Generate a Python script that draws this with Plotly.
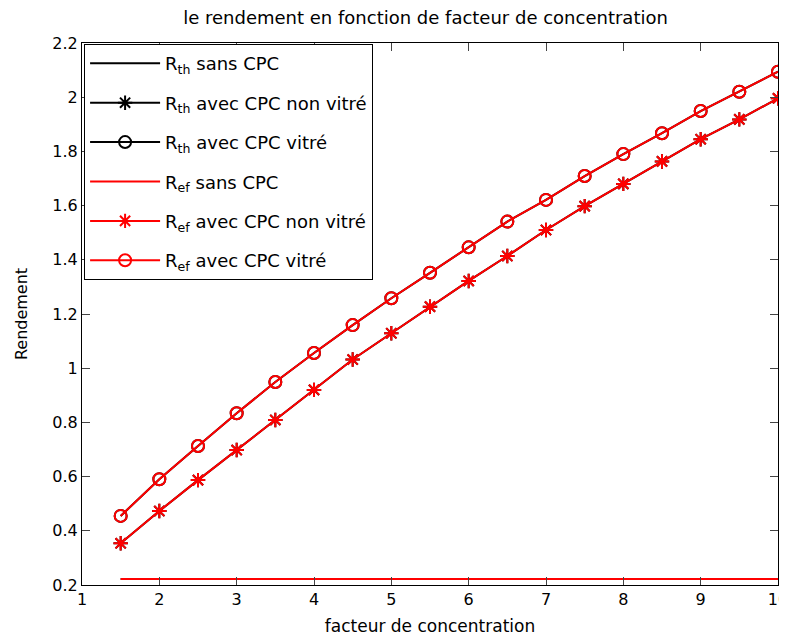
import plotly.graph_objs as go

facteur = [1.5, 2, 2.5, 3, 3.5, 4, 4.5, 5, 5.5, 6, 6.5, 7, 7.5, 8, 8.5, 9, 9.5, 10]

R_sans_cpc = [0.222] * len(facteur)
R_non_vitre = [0.354, 0.473, 0.587, 0.698, 0.809, 0.920, 1.032, 1.129, 1.227, 1.322,
               1.414, 1.510, 1.598, 1.680, 1.763, 1.845, 1.918, 1.996]
R_vitre = [0.455, 0.590, 0.713, 0.834, 0.949, 1.056, 1.159, 1.258, 1.352, 1.446,
           1.541, 1.621, 1.709, 1.790, 1.867, 1.949, 2.020, 2.094]

x_ticks = [1, 2, 3, 4, 5, 6, 7, 8, 9, 10]
y_ticks = [0.2, 0.4, 0.6, 0.8, 1.0, 1.2, 1.4, 1.6, 1.8, 2.0, 2.2]
y_labels = ['0.2', '0.4', '0.6', '0.8', '1', '1.2', '1.4', '1.6', '1.8', '2', '2.2']

series = [
    ('R<sub>th</sub> sans CPC', R_sans_cpc, 'black', None),
    ('R<sub>th</sub> avec CPC non vitré', R_non_vitre, 'black', 'asterisk-open'),
    ('R<sub>th</sub> avec CPC vitré', R_vitre, 'black', 'circle-open'),
    ('R<sub>ef</sub> sans CPC', R_sans_cpc, 'red', None),
    ('R<sub>ef</sub> avec CPC non vitré', R_non_vitre, 'red', 'asterisk-open'),
    ('R<sub>ef</sub> avec CPC vitré', R_vitre, 'red', 'circle-open'),
]

fig = go.Figure()
for i, (name, y, col, sym) in enumerate(series):
    fig.add_trace(go.Scatter(
        name=name,
        x=facteur,
        y=y,
        mode='lines+markers' if sym else 'lines',
        line=dict(color=col, width=2),
        marker=dict(symbol=sym or 'circle', size=12, color=col,
                    line=dict(color=col, width=2)),
        legendgroup=str(i),
    ))

# the page body has an 8px margin: figure made smaller so the page doesn't scroll
fig.update_layout(
    width=779, height=628,
    margin=dict(l=74, r=9, t=35, b=51),
    paper_bgcolor='white', plot_bgcolor='white',
    font=dict(family='DejaVu Sans, Verdana, sans-serif', size=16, color='black'),
    title=dict(text='le rendement en fonction de facteur de concentration',
               x=0.536, xanchor='center', y=0.984, yanchor='middle',
               font=dict(size=18)),
    legend=dict(x=0.003, y=0.998, xanchor='left', yanchor='top',
                bordercolor='black', borderwidth=1, bgcolor='white',
                font=dict(size=18), itemwidth=70,
                traceorder='grouped', tracegroupgap=13),
    xaxis=dict(range=[1, 10], tickvals=x_ticks, ticks='inside', ticklen=8,
               showgrid=False, zeroline=False, showline=True, linecolor='black',
               linewidth=1, mirror='ticks', automargin=False,
               ticklabeloverflow='allow',
               title=dict(text='facteur de concentration', standoff=14,
                          font=dict(size=17)),
               tickfont=dict(size=16)),
    yaxis=dict(range=[0.2, 2.2], tickvals=y_ticks, ticktext=y_labels,
               ticks='inside', ticklen=8,
               showgrid=False, zeroline=False, showline=True, linecolor='black',
               linewidth=1, mirror='ticks', automargin=False,
               title=dict(text='Rendement', standoff=20, font=dict(size=16)),
               tickfont=dict(size=16)),
)

fig.write_html('out.html')
